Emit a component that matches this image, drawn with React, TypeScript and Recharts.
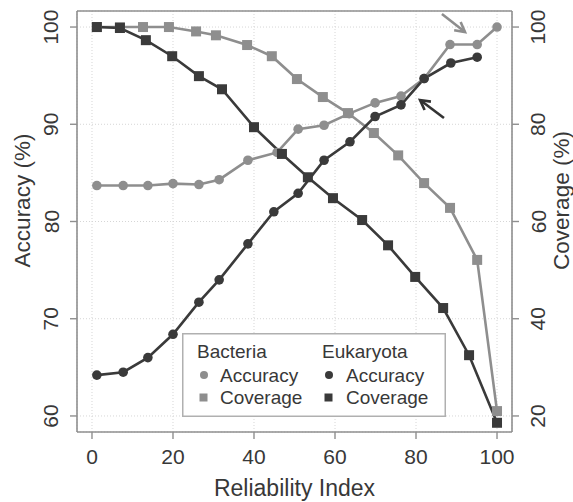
import React from 'react'
import {
  LineChart, Line, XAxis, YAxis, CartesianGrid, ReferenceLine,
} from 'recharts'

const FONT = '"Liberation Sans", Arial, Helvetica, sans-serif'
const LIGHT = '#8e8e8e'
const DARK = '#3a3a3a'
const FRAME = '#8f8f8f'
const TEXT = '#383838'

// reliability index positions
const bacAccX = [1.2, 7.7, 13.8, 20, 26.4, 31.4, 38.5, 45.7, 50.9, 57.3, 63.5, 69.9, 76.3, 82, 88.4, 95.1, 100]
const bacAccY = [83.7, 83.7, 83.7, 83.9, 83.8, 84.3, 86.3, 87.1, 89.5, 89.9, 91.1, 92.2, 92.9, 94.7, 98.2, 98.2, 100]

const eukAccX = [1.2, 7.7, 13.8, 20, 26.4, 31.4, 38.5, 44.9, 50.9, 57.3, 63.7, 69.9, 76.3, 82, 88.6, 95.1]
const eukAccY = [64.2, 64.5, 66.0, 68.4, 71.7, 74.0, 77.7, 81.0, 82.9, 86.3, 88.2, 90.8, 92.0, 94.7, 96.3, 96.9]

const bacCovX = [1.2, 6.9, 12.6, 19, 25.7, 30.6, 38.3, 44.4, 50.6, 57, 63.2, 69.6, 75.6, 82, 88.4, 95.1, 100]
const bacCovY = [100, 100, 100, 100, 99.1, 98.3, 96.3, 94.0, 89.3, 85.6, 82.3, 78.2, 73.6, 67.9, 62.8, 52.1, 21.0]

const eukCovX = [1.2, 6.9, 13.3, 19.8, 26.4, 32.1, 40, 46.9, 53.3, 59.5, 66.7, 73.1, 79.8, 86.7, 93.1, 100]
const eukCovY = [100, 99.8, 97.3, 94.0, 89.9, 87.2, 79.4, 73.9, 69.1, 64.8, 60.3, 55.1, 48.6, 42.2, 32.5, 18.6]

const xTicks = [0, 20, 40, 60, 80, 100]
const accTicks = [60, 70, 80, 90, 100]
const covTicks = [20, 40, 60, 80, 100]

const X_DOMAIN = [-3.7, 103.7]
const ACC_DOMAIN = [58.35, 101.65]
const COV_DOMAIN = [16.7, 103.3]

const zip = (xs: number[], ys: number[]) => xs.map((x, i) => ({ x, y: ys[i] }))

const bacAcc = zip(bacAccX, bacAccY)
const eukAcc = zip(eukAccX, eukAccY)
const bacCov = zip(bacCovX, bacCovY)
const eukCov = zip(eukCovX, eukCovY)

function circleDot(color: string) {
  return (p: any) => {
    if (p.cx == null || p.cy == null) return <g key={`c-${p.index}`} />
    return <circle key={`c-${p.index}`} cx={p.cx} cy={p.cy} r={4.8} fill={color} />
  }
}
function squareDot(color: string) {
  return (p: any) => {
    if (p.cx == null || p.cy == null) return <g key={`s-${p.index}`} />
    return <rect key={`s-${p.index}`} x={p.cx - 5} y={p.cy - 5} width={10} height={10} fill={color} />
  }
}

function LeftTick({ x, y, payload }: any) {
  const cx = x - 17
  return (
    <text x={cx} y={y} transform={`rotate(-90 ${cx} ${y})`} textAnchor="middle"
      dominantBaseline="central" fontSize={21} fontFamily={FONT} fill={TEXT}>{payload.value}</text>
  )
}
function RightTick({ x, y, payload }: any) {
  const cx = x + 17
  return (
    <text x={cx} y={y} transform={`rotate(-90 ${cx} ${y})`} textAnchor="middle"
      dominantBaseline="central" fontSize={21} fontFamily={FONT} fill={TEXT}>{payload.value}</text>
  )
}
function BottomTick({ x, y, payload }: any) {
  return (
    <text x={x} y={y + 23} textAnchor="middle" fontSize={21} fontFamily={FONT} fill={TEXT}>{payload.value}</text>
  )
}

function SideTitle({ viewBox, value, dxFromLeft }: any) {
  const cx = viewBox.x + dxFromLeft
  const cy = viewBox.y + viewBox.height / 2 - 21
  return (
    <text x={cx} y={cy} transform={`rotate(-90 ${cx} ${cy})`} textAnchor="middle"
      dominantBaseline="central" fontSize={22.5} fontFamily={FONT} fill={TEXT}>{value}</text>
  )
}
function BottomTitle({ viewBox }: any) {
  return (
    <text x={viewBox.x + viewBox.width / 2} y={viewBox.y + viewBox.height - 6} textAnchor="middle"
      fontSize={23} fontFamily={FONT} fill={TEXT}>Reliability Index</text>
  )
}

function arrowShape(color: string) {
  return (p: any) => {
    const { x1, y1, x2, y2 } = p
    const a = Math.atan2(y2 - y1, x2 - x1)
    const len = 11
    const sp = 0.5
    const ax = x2 - len * Math.cos(a - sp), ay = y2 - len * Math.sin(a - sp)
    const bx = x2 - len * Math.cos(a + sp), by = y2 - len * Math.sin(a + sp)
    return (
      <g>
        <line x1={x1} y1={y1} x2={x2} y2={y2} stroke={color} strokeWidth={2.6} />
        <polyline points={`${ax},${ay} ${x2},${y2} ${bx},${by}`} fill="none" stroke={color} strokeWidth={2.6} />
      </g>
    )
  }
}

function LegendBox() {
  const fs = 19
  return (
    <svg width={264} height={84} style={{ position: 'absolute', left: 182, top: 333 }}>
      <rect x={0.75} y={0.75} width={262.5} height={82.5} fill="#fff" stroke="#b0b0b0" strokeWidth={1.5} />
      <g fontFamily={FONT} fontSize={fs} fill={TEXT}>
        <text x={15} y={25}>Bacteria</text>
        <circle cx={22} cy={42} r={4} fill={LIGHT} />
        <text x={38} y={49}>Accuracy</text>
        <rect x={17.5} y={60.5} width={8} height={8} fill={LIGHT} />
        <text x={38} y={71}>Coverage</text>

        <text x={140} y={25}>Eukaryota</text>
        <circle cx={147} cy={42} r={4} fill={DARK} />
        <text x={164} y={49}>Accuracy</text>
        <rect x={142.5} y={60.5} width={8} height={8} fill={DARK} />
        <text x={164} y={71}>Coverage</text>
      </g>
    </svg>
  )
}

export default function App() {
  return (
    <div style={{ position: 'absolute', left: 0, top: 0, width: 573, height: 502, background: '#fff' }}>
      <LineChart width={573} height={502} margin={{ top: 11, right: 0, bottom: 0, left: 0 }}>
        <CartesianGrid yAxisId="left" stroke="#d6d6d6" strokeDasharray="1 2" strokeWidth={1} />
        <XAxis type="number" dataKey="x" domain={X_DOMAIN} ticks={xTicks} allowDataOverflow
          height={70} tickSize={7} tickMargin={2} tick={<BottomTick />}
          axisLine={{ stroke: FRAME, strokeWidth: 1.6 }} tickLine={{ stroke: FRAME, strokeWidth: 1.4 }}
          label={<BottomTitle />} />
        <YAxis yAxisId="left" type="number" domain={ACC_DOMAIN} ticks={accTicks} allowDataOverflow
          width={77} tickSize={7} tickMargin={2} tick={<LeftTick />}
          axisLine={{ stroke: FRAME, strokeWidth: 1.6 }} tickLine={{ stroke: FRAME, strokeWidth: 1.4 }}
          label={<SideTitle value="Accuracy (%)" dxFromLeft={22} />} />
        <YAxis yAxisId="right" orientation="right" type="number" domain={COV_DOMAIN} ticks={covTicks} allowDataOverflow
          width={61} tickSize={7} tickMargin={2} tick={<RightTick />}
          axisLine={{ stroke: FRAME, strokeWidth: 1.6 }} tickLine={{ stroke: FRAME, strokeWidth: 1.4 }}
          label={<SideTitle value="Coverage (%)" dxFromLeft={49} />} />
        <ReferenceLine yAxisId="left" y={ACC_DOMAIN[1]} stroke={FRAME} strokeWidth={1.6} ifOverflow="visible" />

        <Line yAxisId="left" data={bacAcc} dataKey="y" type="linear" stroke={LIGHT} strokeWidth={2.6}
          dot={circleDot(LIGHT)} activeDot={false} isAnimationActive={false} />
        <Line yAxisId="right" data={bacCov} dataKey="y" type="linear" stroke={LIGHT} strokeWidth={2.6}
          dot={squareDot(LIGHT)} activeDot={false} isAnimationActive={false} />
        <Line yAxisId="left" data={eukAcc} dataKey="y" type="linear" stroke={DARK} strokeWidth={2.6}
          dot={circleDot(DARK)} activeDot={false} isAnimationActive={false} />
        <Line yAxisId="right" data={eukCov} dataKey="y" type="linear" stroke={DARK} strokeWidth={2.6}
          dot={squareDot(DARK)} activeDot={false} isAnimationActive={false} />

        <ReferenceLine yAxisId="left" ifOverflow="visible"
          segment={[{ x: 86.4, y: 101.34 }, { x: 92.1, y: 99.49 }]} shape={arrowShape(LIGHT)} />
        <ReferenceLine yAxisId="left" ifOverflow="visible"
          segment={[{ x: 86.9, y: 90.64 }, { x: 81.0, y: 92.49 }]} shape={arrowShape('#333')} />
      </LineChart>
      <LegendBox />
    </div>
  )
}
